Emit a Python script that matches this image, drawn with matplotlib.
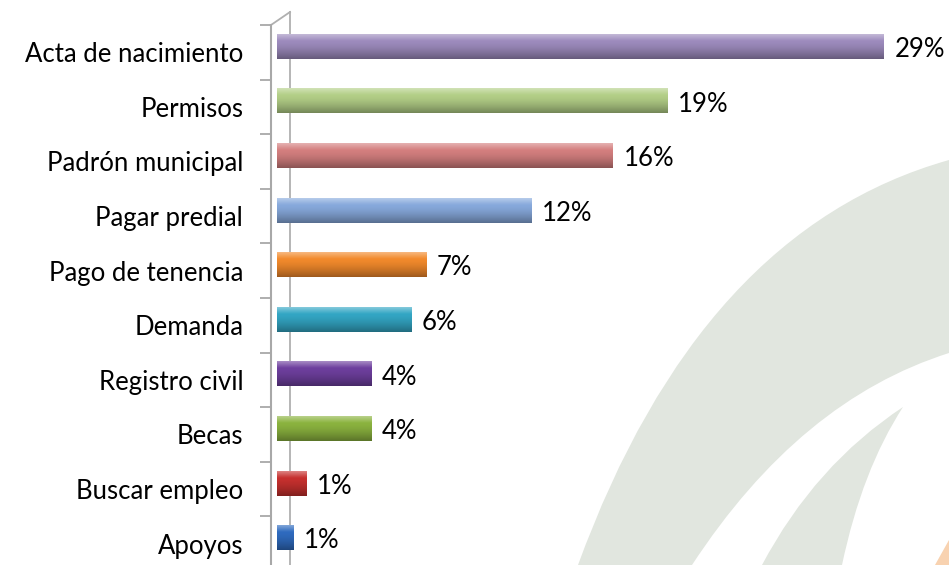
import numpy as np
import matplotlib
matplotlib.use('Agg')
import matplotlib.pyplot as plt
from matplotlib.path import Path
from matplotlib.patches import PathPatch
from matplotlib.colors import to_rgb

# datos (porcentaje de trámites)
categorias = ['Acta de nacimiento', 'Permisos', 'Padrón municipal', 'Pagar predial',
              'Pago de tenencia', 'Demanda', 'Registro civil', 'Becas',
              'Buscar empleo', 'Apoyos']
valores = [28.9, 18.6, 16.0, 12.1, 7.1, 6.4, 4.5, 4.5, 1.4, 0.8]
etiquetas = ['29%', '19%', '16%', '12%', '7%', '6%', '4%', '4%', '1%', '1%']
colores = ['#9d8bbd', '#b3cf87', '#d47f7f', '#87a9dc', '#f28a2c', '#33a6c4',
           '#6e3f9e', '#8bb33f', '#c6302e', '#2f6bbf']

W, H = 949, 565
fig = plt.figure(figsize=(W / 100, H / 100), dpi=100)
fig.patch.set_facecolor('white')

# marca de agua (fondo)
def px(x, y):
    return (x / W, 1 - y / H)

agua = '#e1e6df'
banda = Path([px(578, 565), px(700, 230), px(949, 160), px(949, 353),
              px(800, 400), px(692, 565), px(578, 565)],
             [Path.MOVETO, Path.CURVE3, Path.CURVE3, Path.LINETO,
              Path.CURVE3, Path.CURVE3, Path.CLOSEPOLY])
hoja = Path([px(762, 565), px(815, 465), px(903, 407), px(862, 470),
             px(842, 565), px(762, 565)],
            [Path.MOVETO, Path.CURVE3, Path.CURVE3, Path.CURVE3,
             Path.CURVE3, Path.CLOSEPOLY])
punta = Path([px(935, 565), px(949, 540), px(949, 565), px(935, 565)],
             [Path.MOVETO, Path.LINETO, Path.LINETO, Path.CLOSEPOLY])
for p, c in ((banda, agua), (hoja, agua), (punta, '#f8d2b0')):
    fig.add_artist(PathPatch(p, facecolor=c, edgecolor='none',
                             transform=fig.transFigure, zorder=0))

# ejes: 0% en x=277px, 21 px por punto porcentual
esc = 21.0
x0 = 277
ax = fig.add_axes([x0 / W, 1 - 571 / H, (W - x0) / W, (571 - 25) / H])
ax.patch.set_alpha(0)
xmax = (W - x0) / esc
ax.set_xlim(0, xmax)

y = np.arange(len(categorias))
desp = -0.11
alto = 0.46
barras = ax.barh(y + desp, valores, height=alto, color=colores,
                 edgecolor='none', zorder=3)

# efecto cilindro
for b, c in zip(barras, colores):
    base = np.array(to_rgb(c))
    t = np.linspace(0, 1, 60)
    grad = np.zeros((60, 1, 3))
    for i, ti in enumerate(t):
        if ti < 0.3:
            k = 0.45 * (1 - ti / 0.3)
            col = base + (1 - base) * k
        else:
            k = 0.35 * ((ti - 0.3) / 0.7) ** 1.5
            col = base * (1 - k)
        grad[i, 0] = col
    bx, by = b.get_x(), b.get_y()
    bw, bh = b.get_width(), b.get_height()
    im = ax.imshow(grad, extent=(bx, bx + bw, by + bh, by), aspect='auto',
                   zorder=4, interpolation='bilinear')
    im.set_clip_path(b)

for yi, v, lab in zip(y, valores, etiquetas):
    ax.text(v + 0.5, yi - 0.05, lab, va='center', ha='left',
            fontsize=18.5, family='Lato', color='black')

ax.set_xlim(0, xmax)
ax.set_ylim(len(categorias) - 0.5, -0.5)

# pared lateral
xf = -6 / esc
xb = 13 / esc
ax.plot([xb, xb], [-0.5 - 13 / 54.6, 10], color='#b0b0b0', lw=1.3,
        clip_on=False, zorder=1)
ax.plot([xf, xb], [-0.5, -0.5 - 13 / 54.6], color='#b0b0b0', lw=1.3,
        clip_on=False, zorder=1)

for s in ['top', 'right', 'bottom']:
    ax.spines[s].set_visible(False)
ax.spines['left'].set_position(('data', xf))
ax.spines['left'].set_color('#a8a8a8')
ax.spines['left'].set_linewidth(1.5)
ax.set_xticks([])
ax.set_yticks(y)
ax.set_yticklabels(categorias, fontsize=18.5, family='Lato')
ax.tick_params(axis='y', which='major', length=0, pad=20)
ax.set_yticks(np.arange(-0.5, len(categorias), 1), minor=True)
ax.tick_params(axis='y', which='minor', length=8, width=1.3, color='#a8a8a8')

fig.savefig('out.png', dpi=100, facecolor='white')
